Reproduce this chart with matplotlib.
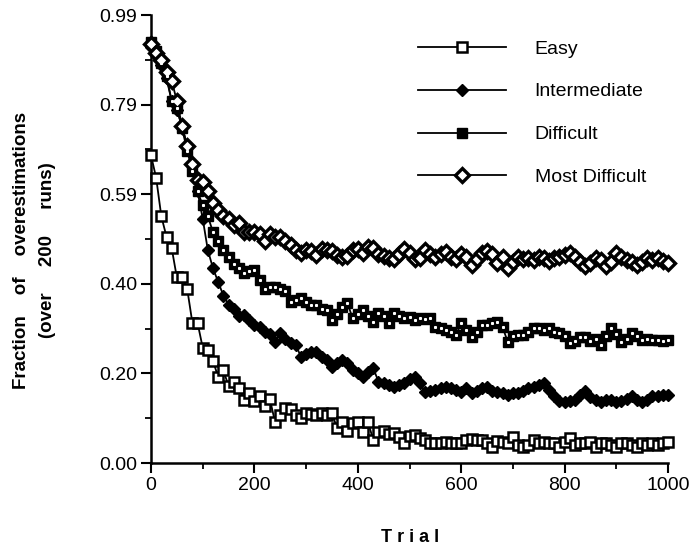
import numpy as np
import matplotlib
matplotlib.use("Agg")
import matplotlib.pyplot as plt

plt.rcParams['font.family'] = ['Liberation Sans', 'DejaVu Sans']

# trials, every 10 from 0 to 1000
trials = list(range(0, 1001, 10))

easy = [0.68, 0.63, 0.545, 0.50, 0.475, 0.41, 0.41, 0.385, 0.31, 0.31,
        0.255, 0.25, 0.225, 0.19, 0.205, 0.17, 0.18, 0.165, 0.14, 0.155,
        0.137, 0.147, 0.127, 0.141, 0.09, 0.106, 0.122, 0.12, 0.106, 0.10,
        0.11, 0.108, 0.105, 0.11, 0.105, 0.11, 0.077, 0.09, 0.07, 0.088,
        0.09, 0.068, 0.09, 0.05, 0.068, 0.07, 0.065, 0.067, 0.057, 0.044,
        0.06, 0.062, 0.055, 0.05, 0.044, 0.045, 0.044, 0.046, 0.044, 0.045,
        0.044, 0.05, 0.052, 0.05, 0.05, 0.045, 0.036, 0.048, 0.046, 0.045,
        0.057, 0.04, 0.036, 0.04, 0.05, 0.044, 0.046, 0.045, 0.044, 0.036,
        0.046, 0.055, 0.04, 0.045, 0.044, 0.046, 0.036, 0.045, 0.045, 0.04,
        0.036, 0.044, 0.045, 0.04, 0.036, 0.044, 0.04, 0.045, 0.04, 0.045,
        0.046]

intermediate = [0.92, 0.905, 0.88, 0.85, 0.80, 0.78, 0.745, 0.70, 0.66, 0.60,
                0.54, 0.47, 0.43, 0.40, 0.37, 0.35, 0.34, 0.325, 0.327, 0.316,
                0.305, 0.30, 0.29, 0.285, 0.268, 0.287, 0.275, 0.265, 0.261, 0.235,
                0.24, 0.245, 0.246, 0.235, 0.228, 0.212, 0.22, 0.228, 0.22, 0.206,
                0.198, 0.191, 0.20, 0.209, 0.18, 0.176, 0.172, 0.169, 0.172, 0.176,
                0.185, 0.191, 0.176, 0.158, 0.16, 0.161, 0.165, 0.169, 0.165, 0.161,
                0.158, 0.165, 0.154, 0.16, 0.165, 0.169, 0.16, 0.158, 0.154, 0.15,
                0.155, 0.154, 0.16, 0.165, 0.168, 0.172, 0.176, 0.162, 0.148, 0.138,
                0.134, 0.136, 0.14, 0.15, 0.16, 0.145, 0.139, 0.135, 0.139, 0.14,
                0.135, 0.138, 0.142, 0.147, 0.14, 0.135, 0.14, 0.147, 0.148, 0.15,
                0.15]

difficult = [0.93, 0.91, 0.885, 0.855, 0.80, 0.785, 0.74, 0.69, 0.645, 0.60,
             0.57, 0.545, 0.51, 0.49, 0.47, 0.455, 0.44, 0.43, 0.42, 0.425,
             0.427, 0.404, 0.385, 0.39, 0.39, 0.385, 0.38, 0.356, 0.36, 0.364,
             0.355, 0.35, 0.349, 0.34, 0.338, 0.316, 0.33, 0.345, 0.353, 0.32,
             0.33, 0.338, 0.325, 0.312, 0.331, 0.325, 0.309, 0.331, 0.325, 0.32,
             0.323, 0.316, 0.32, 0.318, 0.32, 0.30, 0.298, 0.294, 0.29, 0.283,
             0.309, 0.295, 0.279, 0.29, 0.305, 0.305, 0.31, 0.312, 0.30, 0.268,
             0.28, 0.283, 0.283, 0.29, 0.298, 0.298, 0.295, 0.298, 0.29, 0.287,
             0.28, 0.265, 0.27, 0.279, 0.279, 0.27, 0.275, 0.261, 0.28, 0.298,
             0.285, 0.268, 0.275, 0.287, 0.28, 0.272, 0.275, 0.272, 0.272, 0.27,
             0.272]

most_difficult = [0.925, 0.905, 0.89, 0.865, 0.845, 0.80, 0.745, 0.70, 0.66, 0.625,
                  0.62, 0.60, 0.575, 0.56, 0.545, 0.54, 0.525, 0.53, 0.51, 0.51,
                  0.51, 0.505, 0.49, 0.505, 0.50, 0.50, 0.49, 0.482, 0.47, 0.465,
                  0.47, 0.468, 0.46, 0.472, 0.47, 0.468, 0.46, 0.455, 0.458, 0.47,
                  0.474, 0.465, 0.478, 0.475, 0.462, 0.458, 0.452, 0.45, 0.462, 0.472,
                  0.465, 0.45, 0.452, 0.47, 0.462, 0.456, 0.462, 0.467, 0.455, 0.45,
                  0.462, 0.455, 0.438, 0.45, 0.465, 0.468, 0.462, 0.441, 0.455, 0.43,
                  0.445, 0.456, 0.45, 0.452, 0.448, 0.455, 0.452, 0.446, 0.452, 0.455,
                  0.46, 0.463, 0.455, 0.445, 0.436, 0.442, 0.452, 0.448, 0.436, 0.445,
                  0.463, 0.455, 0.449, 0.445, 0.437, 0.445, 0.452, 0.448, 0.452, 0.447,
                  0.441]

ytick_vals = [0.0, 0.198, 0.396, 0.594, 0.792, 0.99]
ytick_labels = ['0.00', '0.20', '0.40', '0.59', '0.79', '0.99']
xtick_vals = [0, 200, 400, 600, 800, 1000]

fig = plt.figure(figsize=(6.95, 5.48), dpi=100)
ax = fig.add_axes([151 / 695, 1 - 463 / 548, (668 - 151) / 695, (463 - 15) / 548])

ax.plot(trials, easy, color='black', lw=1.3, marker='s', ms=6.5,
        mfc='white', mec='black', mew=1.8, clip_on=False, label='Easy', zorder=3)
ax.plot(trials, intermediate, color='black', lw=1.3, marker='D', ms=6.5,
        mfc='black', mec='black', clip_on=False, label='Intermediate', zorder=3)
ax.plot(trials, difficult, color='black', lw=1.3, marker='s', ms=7.5,
        mfc='black', mec='black', clip_on=False, label='Difficult', zorder=3)
ax.plot(trials, most_difficult, color='black', lw=1.3, marker='D', ms=7,
        mfc='white', mec='black', mew=2.4, clip_on=False, label='Most Difficult', zorder=3)
# small white centre dot of the filled squares
ax.plot(trials, difficult, ls='none', marker='s', ms=1.2, mfc='white', mec='white',
        clip_on=False, zorder=4)

ax.set_xlim(0, 1000)
ax.set_ylim(0, 0.99)
ax.set_xticks(xtick_vals)
ax.set_xticks([100, 300, 500, 700, 900], minor=True)
ax.set_yticks(ytick_vals)
ax.set_yticklabels(ytick_labels)
ax.set_yticks([0.099, 0.297, 0.495, 0.693, 0.891], minor=True)
ax.tick_params(which='major', direction='out', length=7, width=1.5, labelsize=14, pad=3)
ax.tick_params(which='minor', direction='out', length=4, width=1.3)
for s in ['top', 'right']:
    ax.spines[s].set_visible(False)
for s in ['left', 'bottom']:
    ax.spines[s].set_linewidth(1.8)

fig.text(22 / 695, 1 - 250 / 548, 'Fraction    of    overestimations', rotation=90,
         ha='center', va='center', fontsize=13.5, fontweight='bold')
fig.text(48 / 695, 1 - 250 / 548, '(over     200     runs)', rotation=90,
         ha='center', va='center', fontsize=13.5, fontweight='bold')
fig.text(410 / 695, 1 - 537 / 548, 'T r i a l', ha='center', va='center',
         fontsize=13, fontweight='bold')

leg = ax.legend(loc='upper left', bbox_to_anchor=(418 / 695, 1 - 40 / 548),
                bbox_transform=fig.transFigure, frameon=False, fontsize=14,
                handlelength=4.5, handletextpad=1.5, labelspacing=1.3,
                borderpad=0, borderaxespad=0)

fig.savefig('out.png', dpi=100)
